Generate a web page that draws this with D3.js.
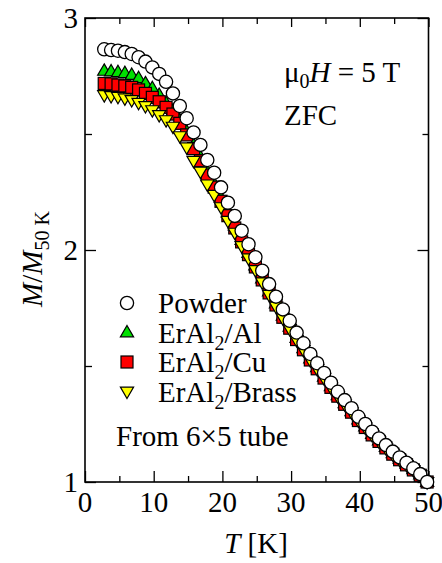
<!DOCTYPE html>
<html><head><meta charset="utf-8"><script src="https://cdn.jsdelivr.net/npm/d3@7"></script></head>
<body style="margin:0">
<svg width="442" height="563" id="chart"></svg>
<script>
// temperatures (K), one point per kelvin
const temps = d3.range(3, 51);

const powder = [2.865, 2.862, 2.859, 2.853, 2.845, 2.831, 2.812, 2.787, 2.759, 2.725,
  2.675, 2.621, 2.568, 2.507, 2.453, 2.388, 2.333, 2.270, 2.204, 2.147,
  2.083, 2.025, 1.969, 1.911, 1.853, 1.799, 1.744, 1.695, 1.644, 1.598,
  1.552, 1.512, 1.470, 1.428, 1.389, 1.353, 1.318, 1.281, 1.250, 1.217,
  1.188, 1.159, 1.131, 1.106, 1.083, 1.059, 1.034, 1.000];

const erAlAl = [2.772, 2.769, 2.766, 2.762, 2.754, 2.740, 2.718, 2.697, 2.668, 2.632,
  2.600, 2.559, 2.510, 2.452, 2.400, 2.338, 2.285, 2.224, 2.160, 2.105,
  2.043, 1.987, 1.933, 1.877, 1.821, 1.769, 1.716, 1.669, 1.620, 1.576,
  1.532, 1.494, 1.453, 1.412, 1.374, 1.339, 1.305, 1.269, 1.239, 1.207,
  1.179, 1.151, 1.124, 1.100, 1.078, 1.055, 1.032, 1.000];

const erAlCu = [2.718, 2.716, 2.711, 2.707, 2.701, 2.690, 2.675, 2.658, 2.639, 2.615,
  2.586, 2.546, 2.496, 2.437, 2.385, 2.323, 2.271, 2.210, 2.148, 2.095,
  2.035, 1.980, 1.927, 1.871, 1.815, 1.763, 1.710, 1.663, 1.614, 1.570,
  1.526, 1.488, 1.448, 1.408, 1.370, 1.335, 1.301, 1.265, 1.235, 1.203,
  1.175, 1.147, 1.120, 1.096, 1.074, 1.052, 1.029, 1.000];

const erAlBrass = [2.668, 2.664, 2.661, 2.654, 2.647, 2.635, 2.621, 2.603, 2.582, 2.560,
  2.532, 2.491, 2.443, 2.385, 2.338, 2.283, 2.238, 2.185, 2.126, 2.075,
  2.017, 1.965, 1.914, 1.861, 1.807, 1.757, 1.706, 1.660, 1.612, 1.569,
  1.525, 1.487, 1.447, 1.407, 1.370, 1.335, 1.301, 1.265, 1.235, 1.203,
  1.175, 1.147, 1.120, 1.096, 1.074, 1.052, 1.029, 1.000];

const xMajor = [0, 10, 20, 30, 40, 50];
const xMinor = [5, 15, 25, 35, 45];
const yMajor = [1, 2, 3];
const yMinor = [1.5, 2.5];

const legendItems = [
  { name: "Powder", sub: null, tail: "", shape: "circle", fill: "#fff" },
  { name: "ErAl", sub: "2", tail: "/Al", shape: "up", fill: "#00e000" },
  { name: "ErAl", sub: "2", tail: "/Cu", shape: "square", fill: "#ff0000" },
  { name: "ErAl", sub: "2", tail: "/Brass", shape: "down", fill: "#ffff00" },
];

const plotLeft = 85, plotRight = 428.5, plotTop = 18, plotBottom = 482;

const svg = d3.select("#chart");

const x = d3.scaleLinear().domain([0, 50]).range([plotLeft, plotRight]);
const y = d3.scaleLinear().domain([1, 3]).range([plotBottom, plotTop]);

// plain serif text helper
const label = (parent, px, py) =>
  parent.append("text").attr("x", px).attr("y", py)
    .attr("font-size", 29).attr("font-family", "Liberation Serif").attr("fill", "#000");

// ticks, all pointing inward (lines only; labels placed from the same scale)
const tickGroup = svg.append("g");
tickGroup.append("g").attr("transform", `translate(0,${plotBottom})`)
  .call(d3.axisBottom(x).tickValues(xMajor).tickSize(-11).tickFormat(""));
tickGroup.append("g").attr("transform", `translate(0,${plotBottom})`)
  .call(d3.axisBottom(x).tickValues(xMinor).tickSize(-6).tickFormat(""));
tickGroup.append("g").attr("transform", `translate(0,${plotTop})`)
  .call(d3.axisTop(x).tickValues(xMajor).tickSize(-9).tickFormat(""));
tickGroup.append("g").attr("transform", `translate(0,${plotTop})`)
  .call(d3.axisTop(x).tickValues(xMinor).tickSize(-6).tickFormat(""));
tickGroup.append("g").attr("transform", `translate(${plotLeft},0)`)
  .call(d3.axisLeft(y).tickValues(yMajor).tickSize(-11).tickFormat(""));
tickGroup.append("g").attr("transform", `translate(${plotLeft},0)`)
  .call(d3.axisLeft(y).tickValues(yMinor).tickSize(-7).tickFormat(""));
tickGroup.append("g").attr("transform", `translate(${plotRight},0)`)
  .call(d3.axisRight(y).tickValues(yMajor).tickSize(-11).tickFormat(""));
tickGroup.append("g").attr("transform", `translate(${plotRight},0)`)
  .call(d3.axisRight(y).tickValues(yMinor).tickSize(-6).tickFormat(""));
tickGroup.selectAll(".domain").remove();
tickGroup.selectAll(".tick line").attr("stroke", "#000").attr("stroke-width", 1.3);

xMajor.forEach((v) => label(svg, x(v), 512).attr("text-anchor", "middle").text(v));
yMajor.forEach((v) => label(svg, 78, y(v) + 10).attr("text-anchor", "end").text(v));

// frame
svg.append("rect")
  .attr("x", plotLeft).attr("y", plotTop)
  .attr("width", plotRight - plotLeft).attr("height", plotBottom - plotTop)
  .attr("fill", "none").attr("stroke", "#000").attr("stroke-width", 1.6);

// markers
const tri = (up) => {
  const w = 6.6, h = 11.4;
  return up
    ? `M0,${-h * 0.62}L${w},${h * 0.38}L${-w},${h * 0.38}Z`
    : `M0,${h * 0.62}L${w},${-h * 0.38}L${-w},${-h * 0.38}Z`;
};

function drawMarker(g, shape, fill) {
  if (shape === "circle") {
    g.append("circle").attr("r", 6.6).attr("fill", fill).attr("stroke", "#000").attr("stroke-width", 1.3);
  } else if (shape === "square") {
    g.append("rect").attr("x", -6).attr("y", -6).attr("width", 12).attr("height", 12)
      .attr("fill", fill).attr("stroke", "#000").attr("stroke-width", 1.2);
  } else {
    g.append("path").attr("d", tri(shape === "up")).attr("fill", fill).attr("stroke", "#000")
      .attr("stroke-width", 1.2).attr("stroke-linejoin", "miter");
  }
}

const series = [
  { values: erAlAl, item: legendItems[1] },
  { values: erAlCu, item: legendItems[2] },
  { values: erAlBrass, item: legendItems[3] },
  { values: powder, item: legendItems[0] },
];

const plot = svg.append("g");
series.forEach((s) => {
  const g = plot.append("g");
  g.selectAll("g.pt")
    .data(temps.map((t, i) => ({ t, v: s.values[i] })))
    .enter()
    .append("g")
    .attr("class", "pt")
    .attr("transform", (d) => `translate(${x(d.t - 0.2)},${y(d.v)})`)
    .each(function () { drawMarker(d3.select(this), s.item.shape, s.item.fill); });
});

// legend
legendItems.forEach((item, i) => {
  const rowY = 303 + i * 29.5;
  const m = svg.append("g").attr("transform", `translate(127,${rowY})`);
  drawMarker(m, item.shape, item.fill);
  const t = label(svg, 158, rowY + 10);
  t.append("tspan").text(item.name);
  if (item.sub) {
    t.append("tspan").attr("font-size", 20).attr("dy", 7).text(item.sub);
    t.append("tspan").attr("dy", -7).text(item.tail);
  }
});

label(svg, 116, 446).text("From 6×5 tube");

// annotations
const field = label(svg, 284, 82);
field.append("tspan").text("μ");
field.append("tspan").attr("font-size", 20).attr("dy", 6).text("0");
field.append("tspan").attr("dy", -6).attr("font-style", "italic").text("H");
field.append("tspan").text(" = 5 T");
label(svg, 284, 125).text("ZFC");

// axis titles
const xt = label(svg, 256, 553).attr("text-anchor", "middle");
xt.append("tspan").attr("font-style", "italic").text("T");
xt.append("tspan").text(" [K]");

const yt = label(svg, 0, 0)
  .attr("transform", "translate(42,259) rotate(-90)")
  .attr("text-anchor", "middle");
yt.append("tspan").attr("font-style", "italic").text("M");
yt.append("tspan").text("/");
yt.append("tspan").attr("font-style", "italic").text("M");
yt.append("tspan").attr("font-size", 20).attr("dy", 7).text("50 K");
</script>
</body>
</html>
